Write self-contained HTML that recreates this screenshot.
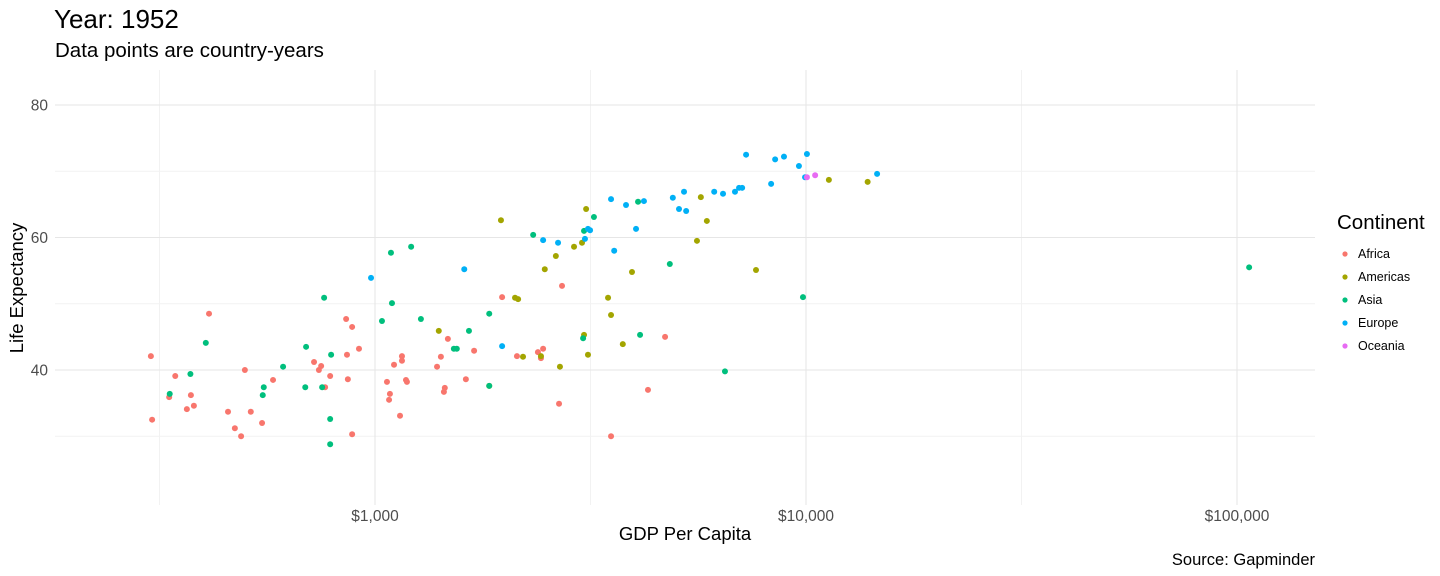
<!DOCTYPE html>
<html><head><meta charset="utf-8"><style>
html,body{margin:0;padding:0;background:#fff;}
svg{display:block;font-family:"Liberation Sans",Arial,sans-serif;}
</style></head><body>
<svg id="chart" width="1440" height="576" viewBox="0 0 1440 576" xmlns="http://www.w3.org/2000/svg">
<text x="54" y="28" font-size="26" fill="#000">Year: 1952</text>
<text x="55" y="57" font-size="20.5" fill="#000">Data points are country-years</text>
<g id="grid"></g>
<g id="points"></g>
<g id="axes"></g>
<text x="685" y="540" font-size="18.5" text-anchor="middle" fill="#000">GDP Per Capita</text>
<text transform="translate(23,288) rotate(-90)" font-size="18.5" text-anchor="middle" fill="#000">Life Expectancy</text>
<text x="1315" y="565" font-size="16.5" text-anchor="end" fill="#000">Source: Gapminder</text>
<g id="legend">
<text x="1337" y="229" font-size="20.5" fill="#000">Continent</text>
</g>
</svg>
<script>
const continents = ["Africa","Americas","Asia","Europe","Oceania"];
const colors = ["#F8766D","#A3A500","#00BF7D","#00B0F6","#E76BF3"];
const xTicks = [1000,10000,100000];
const xTickLabels = ["$1,000","$10,000","$100,000"];
const xMinor = [316.2,3162,31623];
const yTicks = [40,60,80];
const yMinor = [30,50,70];
const africaGdp = [412,302,304,344,333,374,366,380,456,473,489,499,515,547,580,722,750,741,787,766,885,857,885,918,861,865,1476,1698,1422,1393,1155,1155,1107,1066,1180,1186,1083,1078,1143,1452,1445,1625,1972,2135,2716,2388,2455,2427,2673,4299,3529,4710];
const africaLife = [48.5,42.1,32.5,39.1,35.9,36.2,34.1,34.6,33.7,31.2,30.0,40.0,33.7,32.0,38.5,41.2,40.6,40.0,39.1,37.4,30.3,47.7,46.5,43.2,42.3,38.6,44.7,42.9,42.0,40.5,42.1,41.4,40.8,38.2,38.5,38.2,36.4,35.5,33.1,37.3,36.7,38.6,51.0,42.1,52.7,42.7,43.2,41.8,34.9,37.0,30.0,45.0];
const americasGdp = [1406,2113,2148,2205,1841,1960,2427,2686,2477,2628,2896,3022,3089,3120,3055,3758,3529,3473,3947,5702,5888,5585,7656,11300,13900];
const americasLife = [45.9,50.9,50.7,42.0,37.6,62.6,42.1,40.5,55.2,57.2,58.6,59.2,64.3,42.3,45.3,43.9,48.3,50.9,54.8,66.1,62.5,59.5,55.1,68.7,68.4];
const asiaGdp = [405,373,334,552,549,612,692,762,791,689,754,787,787,1095,1038,1278,1652,1524,1548,1841,1841,1089,1213,2328,3055,3221,4077,4121,3040,4831,6486,9840,106700];
const asiaLife = [44.1,39.4,36.4,37.4,36.2,40.5,43.5,50.9,42.3,37.4,37.4,32.6,28.8,50.1,47.4,47.7,45.9,43.2,43.2,48.5,37.6,57.7,58.6,60.4,61.0,63.1,65.4,45.3,44.8,56.0,39.8,51.0,55.5];
const europeGdp = [979,1611,1972,2455,2659,3120,3155,3070,3529,3823,4207,4033,3589,4909,5212,5074,5272,6124,6419,6843,6993,7110,7261,8300,8480,8890,9630,10050,9950,14620];
const europeLife = [53.9,55.2,43.6,59.6,59.2,61.3,61.1,59.8,65.8,64.9,65.5,61.3,58.0,66.0,66.9,64.3,64.0,66.9,66.6,66.9,67.5,67.5,72.5,68.1,71.8,72.2,70.8,72.6,69.1,69.6];
const oceaniaGdp = [10050,10500];
const oceaniaLife = [69.1,69.4];

const NS="http://www.w3.org/2000/svg";
const PX0=55,PX1=1315,PY0=70,PY1=505;
function xs(v){return 375+(Math.log10(v)-3)*431;}
function ys(v){return 105+(80-v)*6.625;}
function mk(tag,attrs,parent){const e=document.createElementNS(NS,tag);for(const k in attrs)e.setAttribute(k,attrs[k]);parent.appendChild(e);return e;}
const grid=document.getElementById('grid'),axes=document.getElementById('axes'),pts=document.getElementById('points'),leg=document.getElementById('legend');
yMinor.forEach(v=>{const l=mk('line',{x1:PX0,x2:PX1,y1:ys(v),y2:ys(v),stroke:'#f2f2f2','stroke-width':1},grid);

});
xMinor.forEach(v=>{const l=mk('line',{x1:xs(v),x2:xs(v),y1:PY0,y2:PY1,stroke:'#f2f2f2','stroke-width':1},grid);

});
yTicks.forEach(v=>{const l=mk('line',{x1:PX0,x2:PX1,y1:ys(v),y2:ys(v),stroke:'#e6e6e6','stroke-width':1.1},grid);


const t=mk('text',{x:48,y:ys(v)+5.5,'font-size':15.5,'text-anchor':'end',fill:'#4d4d4d'},axes);t.textContent=v;

});
xTicks.forEach((v,i)=>{const l=mk('line',{x1:xs(v),x2:xs(v),y1:PY0,y2:PY1,stroke:'#e6e6e6','stroke-width':1.1},grid);


const t=mk('text',{x:xs(v),y:521,'font-size':15.5,'text-anchor':'middle',fill:'#4d4d4d'},axes);t.textContent=xTickLabels[i];

});
const series=[[africaGdp,africaLife],[americasGdp,americasLife],[asiaGdp,asiaLife],[europeGdp,europeLife],[oceaniaGdp,oceaniaLife]];
series.forEach((s,ci)=>{s[0].forEach((g,i)=>{const c=mk('circle',{cx:xs(g),cy:ys(s[1][i]),r:3,fill:colors[ci]},pts);

});});
continents.forEach((n,i)=>{const y=254+i*23;
const c=mk('circle',{cx:1345,cy:y,r:2.6,fill:colors[i]},leg);


const t=mk('text',{x:1358,y:y+4,'font-size':12.5,fill:'#000'},leg);t.textContent=n;

});
</script>
</body></html>
